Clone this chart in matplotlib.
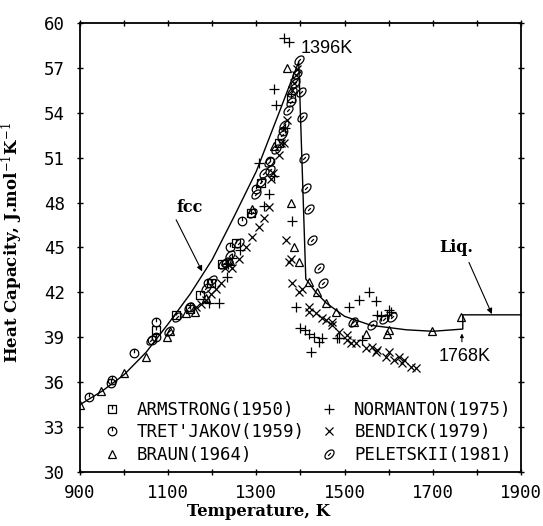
import numpy as np
import matplotlib
matplotlib.use("Agg")
import matplotlib.pyplot as plt
from matplotlib.path import Path
from matplotlib.lines import Line2D
from matplotlib.ticker import MultipleLocator, FixedLocator, FuncFormatter

# ---- assessed heat-capacity curve (fcc -> liquid) ----
curve_T = [900, 950, 1000, 1050, 1100, 1150, 1200, 1250, 1300, 1350, 1380, 1396,
           1412, 1435, 1458, 1500, 1560, 1640, 1700, 1768, 1768, 1900]
curve_Cp = [34.5, 35.4, 36.5, 38.0, 39.9, 41.9, 44.2, 47.1, 50.1, 53.9, 56.2, 57.4,
            42.9, 42.0, 41.3, 40.4, 39.8, 39.5, 39.4, 39.55, 40.5, 40.5]

# ---- experimental data sets ----
armstrong_T = [1072, 1118, 1150, 1172, 1196, 1222, 1254, 1288, 1310, 1352, 1378]
armstrong_Cp = [39.5, 40.5, 40.9, 41.8, 42.6, 43.9, 45.3, 47.3, 49.3, 52.0, 55.0]

tretjakov_T = [920, 970, 973, 1022, 1063, 1072, 1072, 1150, 1190, 1240, 1268, 1300,
               1330, 1360]
tretjakov_Cp = [35.0, 35.95, 36.15, 37.95, 38.8, 39.0, 40.0, 41.0, 42.6, 45.0, 46.8,
                48.9, 50.8, 52.8]

braun_T = [900, 948, 1000, 1050, 1097, 1104, 1140, 1160, 1185, 1240, 1290, 1340,
           1369, 1378, 1385, 1397, 1419, 1437, 1458, 1480, 1521, 1549, 1596, 1601,
           1698, 1764]
braun_Cp = [34.5, 35.4, 36.6, 37.7, 39.0, 39.4, 40.6, 40.7, 41.6, 44.1, 47.6, 51.8,
            57.0, 48.0, 45.0, 44.0, 42.7, 42.0, 41.3, 40.7, 40.0, 39.2, 39.2, 39.5,
            39.4, 40.35]

normanton_T = [1193, 1215, 1233, 1236, 1245, 1262, 1306, 1317, 1328, 1340, 1344,
               1363, 1374, 1381, 1390, 1399, 1410, 1420, 1424, 1431, 1442, 1449,
               1483, 1487, 1510, 1533, 1540, 1555, 1571, 1574, 1582, 1596, 1600,
               1605, 1340, 1365]
normanton_Cp = [41.3, 41.3, 43.0, 43.9, 44.3, 44.8, 50.65, 47.8, 48.6, 55.6, 54.5,
                59.0, 58.7, 46.8, 41.0, 39.6, 39.5, 39.2, 38.0, 39.0, 38.7, 38.95,
                38.95, 38.95, 41.0, 41.5, 38.8, 42.0, 41.4, 40.5, 40.4, 40.5, 40.8,
                40.7, 49.8, 53.0]

bendick_T = [1163, 1175, 1185, 1198, 1208, 1220, 1228, 1238, 1245, 1261, 1276, 1290,
             1306, 1318, 1329, 1333, 1338, 1351, 1356, 1363, 1370, 1380, 1386, 1389,
             1392, 1367, 1374, 1378, 1381, 1397, 1404, 1419, 1419, 1435, 1449, 1458,
             1472, 1472, 1487, 1505, 1505, 1514, 1526, 1549, 1562, 1571, 1574, 1594,
             1601, 1612, 1623, 1630, 1635, 1650, 1662]
bendick_Cp = [41.0, 41.2, 41.5, 41.9, 42.2, 42.6, 43.6, 43.8, 43.6, 44.2, 45.0, 45.7,
              46.4, 47.0, 47.7, 49.6, 50.0, 51.2, 52.0, 52.0, 53.5, 55.5, 56.0, 56.5,
              56.9, 45.5, 44.0, 44.2, 42.6, 42.0, 42.2, 41.0, 40.7, 40.6, 40.3, 40.15,
              40.0, 39.8, 39.35, 39.15, 38.8, 38.6, 38.6, 38.3, 38.35, 38.0, 38.15,
              37.7, 38.0, 37.5, 37.7, 37.3, 37.5, 37.0, 36.95]

peletskii_T = [1061, 1102, 1120, 1147, 1185, 1199, 1225, 1232, 1240, 1261, 1290,
               1299, 1310, 1317, 1329, 1330, 1344, 1358, 1363, 1372, 1378, 1381,
               1388, 1393, 1396, 1402, 1404, 1408, 1413, 1419, 1427, 1442, 1451,
               1520, 1562, 1590, 1608]
peletskii_Cp = [38.8, 39.4, 40.35, 41.0, 42.3, 42.8, 43.9, 44.0, 44.5, 45.3, 47.3,
                48.6, 49.4, 50.0, 50.7, 50.2, 51.6, 52.5, 53.2, 54.2, 54.7, 55.4,
                56.0, 56.6, 57.5, 55.4, 53.7, 51.0, 49.0, 47.6, 45.5, 43.6, 42.6,
                40.0, 39.8, 40.2, 40.35]

labels = ["ARMSTRONG(1950)", "TRET'JAKOV(1959)", "BRAUN(1964)",
          "NORMANTON(1975)", "BENDICK(1979)", "PELETSKII(1981)"]

x_labelled = [900, 1100, 1300, 1500, 1700, 1900]
x_minor = [1000, 1200, 1400, 1600, 1800]


# ---- marker shapes ----
def ring(a=1.0, b=1.0, rot=0.0, n=28):
    t = np.linspace(0, 2 * np.pi, n + 1)
    x, y = a * np.cos(t), b * np.sin(t)
    c, s = np.cos(rot), np.sin(rot)
    return np.column_stack([x * c - y * s, x * s + y * c])


def compose(parts):
    verts, codes = [], []
    for p in parts:
        p = np.asarray(p, float)
        verts.extend(p.tolist())
        codes.extend([Path.MOVETO] + [Path.LINETO] * (len(p) - 1))
    return Path(verts, codes)


sq = [(-1, -1), (1, -1), (1, 1), (-1, 1), (-1, -1)]
mk_armstrong = compose([sq, [(0, 1), (0, 0.05)]])
mk_tretjakov = compose([ring(), [(0, 1), (0, 0.05)]])
mk_peletskii = compose([ring(1.0, 0.62, np.pi / 4), [(-0.25, -0.25), (0.25, 0.25)]])

styles = [
    dict(marker=mk_armstrong, ms=6.0),
    dict(marker=mk_tretjakov, ms=6.2),
    dict(marker="^", ms=6.2),
    dict(marker="+", ms=7.5),
    dict(marker="x", ms=6.2),
    dict(marker=mk_peletskii, ms=6.5),
]
series = [(armstrong_T, armstrong_Cp), (tretjakov_T, tretjakov_Cp),
          (braun_T, braun_Cp), (normanton_T, normanton_Cp),
          (bendick_T, bendick_Cp), (peletskii_T, peletskii_Cp)]

plt.rcParams["mathtext.fontset"] = "dejavuserif"

fig = plt.figure(figsize=(5.43, 5.26), dpi=100)
ax = fig.add_axes([0.1473, 0.1027, 0.8122, 0.8536])

ax.plot(curve_T, curve_Cp, color="black", lw=1.0, zorder=2)

handles = []
for (T, C), st, lab in zip(series, styles, labels):
    ax.plot(T, C, ls="none", marker=st["marker"], ms=st["ms"], mfc="none",
            mec="black", mew=0.9, zorder=3)
    handles.append(Line2D([], [], ls="none", marker=st["marker"], ms=st["ms"],
                          mfc="none", mec="black", mew=0.9, label=lab))

ax.set_xlim(900, 1900)
ax.set_ylim(30, 60)
ax.xaxis.set_major_locator(FixedLocator(x_labelled))
ax.xaxis.set_minor_locator(FixedLocator(x_minor))
ax.yaxis.set_major_locator(MultipleLocator(3))
ax.xaxis.set_major_formatter(FuncFormatter(lambda v, p: f"{v:.0f}"))
ax.yaxis.set_major_formatter(FuncFormatter(lambda v, p: f"{v:.0f}"))

mono = "DejaVu Sans Mono"
ax.tick_params(which="both", direction="inout", length=5, width=1.0,
               top=True, right=True, colors="black")
ax.tick_params(axis="x", pad=6, labelsize=12.5)
ax.tick_params(axis="y", pad=8.5, labelsize=12.5)
for lab in ax.get_xticklabels() + ax.get_yticklabels():
    lab.set_fontfamily(mono)
for sp in ax.spines.values():
    sp.set_linewidth(1.3)

serif = "DejaVu Serif"
ax.set_xlabel("Temperature, K", fontfamily=serif, fontweight="bold", fontsize=11.8)
ax.set_ylabel("Heat Capacity, J.mol$^{-1}$K$^{-1}$", fontfamily=serif,
              fontweight="bold", fontsize=12)
ax.xaxis.set_label_coords(0.405, -0.068)
ax.yaxis.set_label_coords(-0.125, 0.51)

# annotations
sans = "Liberation Sans"
ax.text(1401, 58.3, "1396K", fontfamily=sans, fontsize=13, va="center", ha="left")
ax.text(1714, 37.7, "1768K", fontfamily=sans, fontsize=13, va="center", ha="left")
ax.annotate("", xy=(1766, 39.25), xytext=(1766, 38.7),
            arrowprops=dict(arrowstyle="-|>", lw=0.8, color="black",
                            mutation_scale=5, shrinkA=0, shrinkB=0))
ax.text(1149, 47.7, "fcc", fontfamily=serif, fontweight="bold", fontsize=11.5,
        ha="center", va="center")
ax.annotate("", xy=(1177, 43.4), xytext=(1118, 46.85),
            arrowprops=dict(arrowstyle="-|>", lw=0.8, color="black",
                            mutation_scale=8, shrinkA=0, shrinkB=0))
ax.text(1753, 45.0, "Liq.", fontfamily=serif, fontweight="bold", fontsize=11.5,
        ha="center", va="center")
ax.annotate("", xy=(1834, 40.55), xytext=(1782, 44.0),
            arrowprops=dict(arrowstyle="-|>", lw=0.8, color="black",
                            mutation_scale=8, shrinkA=0, shrinkB=0))

leg = ax.legend(handles=handles, ncol=2, loc="lower left",
                bbox_to_anchor=(0.053, 0.018), frameon=False,
                prop=dict(family=mono, size=12.5), handlelength=1.0,
                handletextpad=0.94, columnspacing=0.9, labelspacing=0.26,
                borderpad=0.0, borderaxespad=0.0)

fig.savefig("out.png", dpi=100, facecolor="white")
